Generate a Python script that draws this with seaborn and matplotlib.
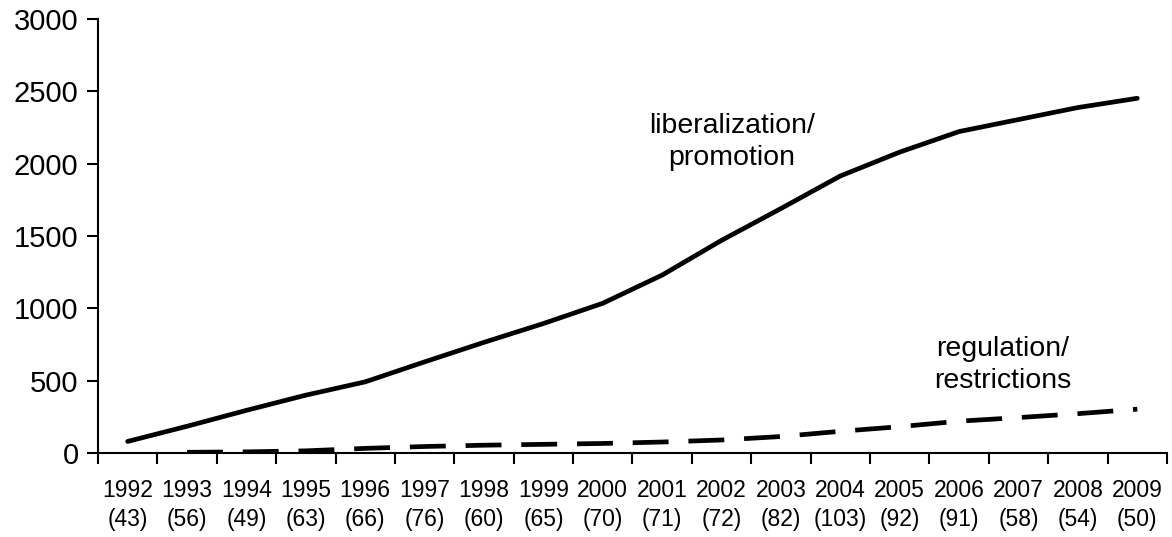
import numpy as np
import pandas as pd
import seaborn as sns
import matplotlib
matplotlib.use("Agg")
import matplotlib.pyplot as plt

# data
years = [1992, 1993, 1994, 1995, 1996, 1997, 1998, 1999, 2000,
         2001, 2002, 2003, 2004, 2005, 2006, 2007, 2008, 2009]
counts = [43, 56, 49, 63, 66, 76, 60, 65, 70, 71, 72, 82, 103, 92, 91, 58, 54, 50]
liberalization = [80, 185, 295, 400, 492, 630, 765, 895, 1035,
                  1230, 1470, 1690, 1915, 2080, 2222, 2305, 2388, 2452]
regulation = [np.nan, 5, 8, 15, 32, 45, 54, 60, 66,
              76, 90, 114, 150, 182, 220, 245, 272, 303]

x_labels = [f"{y}\n({c})" for y, c in zip(years, counts)]

df = pd.DataFrame({
    "pos": np.arange(len(years)),
    "lib": liberalization,
    "reg": regulation,
})

sns.set_style("ticks")
plt.rcParams['font.family'] = ['Liberation Sans', 'DejaVu Sans']
plt.rcParams['text.color'] = 'black'
plt.rcParams['xtick.color'] = 'black'
plt.rcParams['ytick.color'] = 'black'
plt.rcParams['axes.edgecolor'] = 'black'

fig = plt.figure(figsize=(11.72, 5.37), dpi=100)
ax = fig.add_axes([0.0836, 0.1564, 0.9121, 0.8082])

sns.lineplot(data=df, x="pos", y="lib", color="black", linewidth=3.4, ax=ax,
             solid_capstyle="round")
sns.lineplot(data=df.dropna(), x="pos", y="reg", color="black", linewidth=3.4, ax=ax)
ax.lines[-1].set_dashes((7.6, 4.2))
ax.lines[-1].set_dash_capstyle("butt")

ax.set_xlim(-0.5, len(years) - 0.5)
ax.set_ylim(0, 3000)
ax.set_yticks(range(0, 3001, 500))

# category boundaries get the tick marks, centres get the labels
ax.set_xticks(np.arange(-0.5, len(years), 1.0))
ax.set_xticklabels([])
ax.set_xticks(np.arange(len(years)), minor=True)
ax.set_xticklabels(x_labels, minor=True, fontsize=16.5, linespacing=1.33)
ax.tick_params(axis="x", which="minor", length=0, pad=19)
ax.tick_params(axis="x", which="major", length=8, width=1.5, direction="out")
ax.tick_params(axis="y", length=8, width=1.5, direction="out", labelsize=21, pad=6)

ax.set_xlabel("")
ax.set_ylabel("")
for s in ["top", "right"]:
    ax.spines[s].set_visible(False)
for s in ["left", "bottom"]:
    ax.spines[s].set_linewidth(1.5)

ax.text(10.17, 2148, "liberalization/\npromotion", ha="center", va="center",
        fontsize=20.5, linespacing=1.3)
ax.text(14.74, 609, "regulation/\nrestrictions", ha="center", va="center",
        fontsize=20.5, linespacing=1.3)

fig.savefig("out.png", dpi=100)
